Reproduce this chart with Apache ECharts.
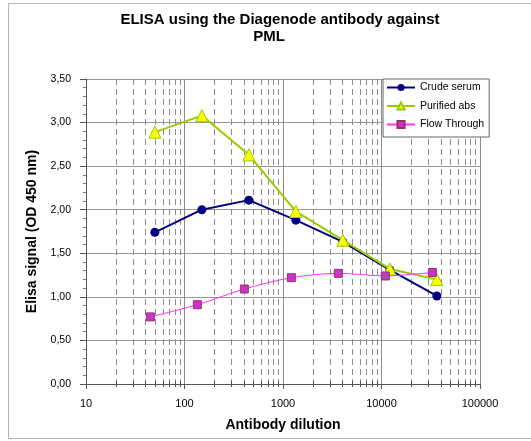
<!DOCTYPE html>
<html>
<head>
<meta charset="utf-8">
<script src="https://cdn.jsdelivr.net/npm/echarts@6/dist/echarts.min.js"></script>
<style>
  html, body { margin: 0; padding: 0; background: #fff; }
  #chart { width: 531px; height: 441px; }
</style>
</head>
<body>
<div id="chart"></div>
<script>
// dilution factors (x) and OD 450 nm readings (y)
const dilutions = [50, 150, 450, 1350, 4050, 12150, 36450]
const flowDilutions = [45, 135, 405, 1215, 3645, 10935, 32805]
const crudeSerum = [1.74, 2.00, 2.11, 1.88, 1.63, 1.31, 1.01]
const purifiedAbs = [2.89, 3.08, 2.63, 1.98, 1.65, 1.32, 1.20]
const flowThrough = [0.77, 0.91, 1.09, 1.22, 1.27, 1.24, 1.28]
const xTicks = [10, 100, 1000, 10000, 100000]
const decades = [10, 100, 1000, 10000]
const minorSteps = [2, 3, 4, 5, 6, 7, 8, 9]

const minorGrid = []
decades.forEach((d) => minorSteps.forEach((s) => minorGrid.push(d * s)))

const font = "'Liberation Sans', Arial, sans-serif"
const chart = echarts.init(document.getElementById("chart"))

const pairs = (xs, ys) => xs.map((x, i) => [x, ys[i]])

chart.setOption({
  animation: false,
  backgroundColor: "#fff",
  textStyle: { fontFamily: font },
  graphic: [
    { type: "rect", silent: true, shape: { x: 8.5, y: 3.5, width: 530, height: 435 },
      style: { fill: "none", stroke: "#b4b4b4", lineWidth: 1 } },
    { type: "text", x: 280, y: 12, silent: true,
      style: { text: "ELISA using the Diagenode antibody against", textAlign: "center", textVerticalAlign: "top",
        font: "bold 15px " + font, fill: "#000" } },
    { type: "text", x: 269, y: 29, silent: true,
      style: { text: "PML", textAlign: "center", textVerticalAlign: "top",
        font: "bold 15px " + font, fill: "#000" } },
  ],
  legend: {
    data: ["Crude serum", "Purified abs", "Flow Through"],
    orient: "vertical",
    left: 383, top: 79,
    itemWidth: 28, itemHeight: 9, itemGap: 7.5,
    padding: [3, 5, 7, 3],
    backgroundColor: "#fff",
    borderColor: "#666", borderWidth: 1, borderRadius: 0,
    textStyle: { fontSize: 10.5, color: "#000", fontFamily: font },
  },
  grid: { left: 86, right: 51, top: 79, bottom: 57 },
  xAxis: {
    type: "log", logBase: 10, min: 10, max: 100000,
    name: "Antibody dilution", nameLocation: "middle", nameGap: 34,
    nameTextStyle: { fontSize: 14, fontWeight: "bold", color: "#000", fontFamily: font },
    axisLine: { lineStyle: { color: "#555" } },
    axisTick: { length: 5, lineStyle: { color: "#555" } },
    axisLabel: { fontSize: 11, color: "#000", margin: 14,
      formatter: (v) => (xTicks.includes(Math.round(v)) ? String(Math.round(v)) : "") },
    splitLine: { show: true, lineStyle: { color: "#8c8c8c" } },
  },
  yAxis: {
    type: "value", min: 0, max: 3.5, interval: 0.5,
    name: "Elisa signal (OD 450 nm)", nameLocation: "middle", nameGap: 47,
    nameTextStyle: { fontSize: 14, fontWeight: "bold", color: "#000", fontFamily: font },
    axisLine: { show: true, lineStyle: { color: "#555" } },
    axisTick: { show: true, length: 6, lineStyle: { color: "#555" } },
    minorTick: { show: true, splitNumber: 5, length: 3, lineStyle: { color: "#777" } },
    axisLabel: { fontSize: 10.5, color: "#000", margin: 15,
      formatter: (v) => v.toFixed(2).replace(".", ",") },
    splitLine: { show: true, lineStyle: { color: "#999" } },
  },
  series: [
    {
      type: "custom", name: "minor grid", silent: true, z: 1,
      data: minorGrid.map((v) => [v, 0]),
      encode: { x: 0, y: 1 },
      renderItem: (params, api) => {
        const top = api.coord([api.value(0), 3.5])
        const bottom = api.coord([api.value(0), 0])
        const x = Math.round(top[0]) + 0.5
        return {
          type: "group",
          children: [
            { type: "line", shape: { x1: x, y1: top[1], x2: x, y2: bottom[1] },
              style: { stroke: "#8c8c8c", lineWidth: 1, lineDash: [6, 4] } },
            { type: "line", shape: { x1: x, y1: bottom[1] - 3, x2: x, y2: bottom[1] + 3 },
              style: { stroke: "#555", lineWidth: 1 } },
          ],
        }
      },
    },
    {
      name: "Crude serum", type: "line", z: 3,
      data: pairs(dilutions, crudeSerum),
      symbol: "circle", symbolSize: 9,
      lineStyle: { color: "#000080", width: 2 },
      itemStyle: { color: "#000080" },
    },
    {
      name: "Purified abs", type: "line", z: 4,
      data: pairs(dilutions, purifiedAbs),
      symbol: "triangle", symbolSize: 12,
      lineStyle: { color: "#99cc00", width: 2 },
      itemStyle: { color: "#ffff00", borderColor: "#99cc00", borderWidth: 1 },
    },
    {
      name: "Flow Through", type: "line", z: 5, smooth: 0.3,
      data: pairs(flowDilutions, flowThrough),
      symbol: "rect", symbolSize: 8,
      lineStyle: { color: "#ff33ff", width: 1 },
      itemStyle: { color: "#cc33cc", borderColor: "#993366", borderWidth: 1 },
    },
  ],
})
</script>
</body>
</html>
